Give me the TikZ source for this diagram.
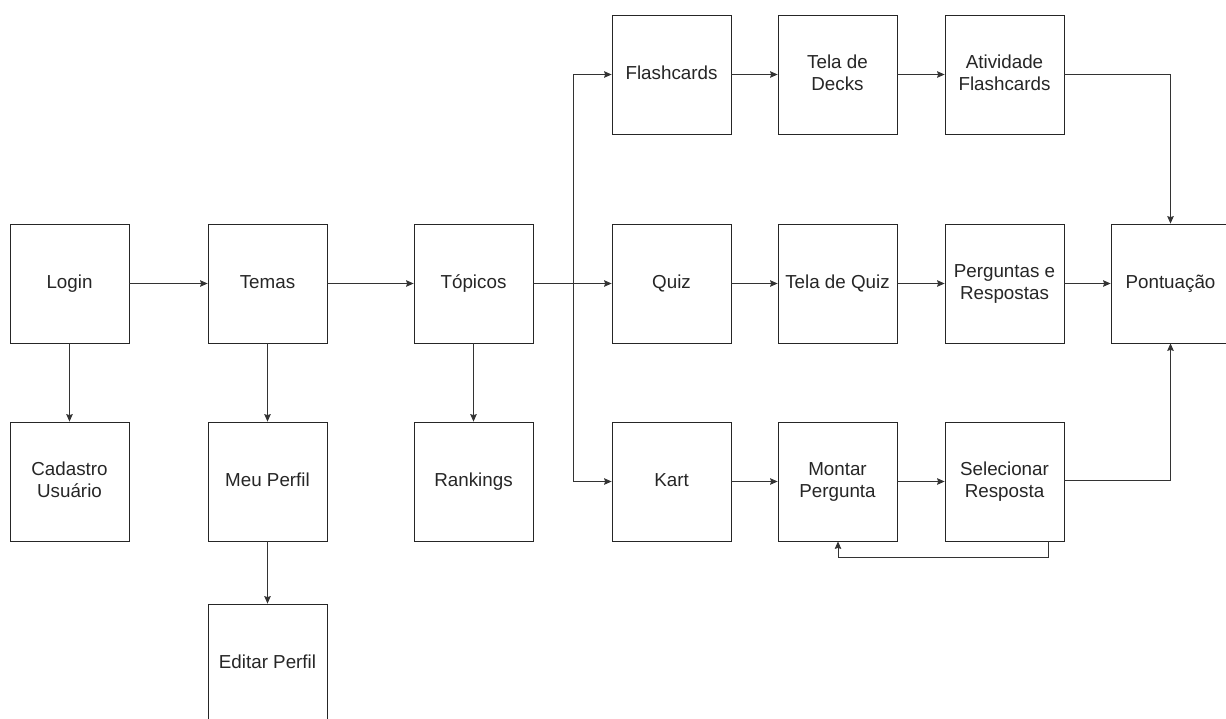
\documentclass[tikz,border=0pt]{standalone}
\usepackage{fontspec}
\setmainfont{Liberation Sans}
\usetikzlibrary{arrows.meta}
% invisible strut so that every label is centred on its capitals
\newcommand{\vstr}{\rule[-4pt]{0pt}{18.3pt}}
\begin{document}
\begin{tikzpicture}[x=1pt,y=-1pt,
  box/.style={draw=black!85, line width=0.8pt, fill=white, minimum width=119pt, minimum height=119pt,
    inner sep=2pt, align=center, font=\fontsize{18.8}{22.5}\selectfont, text=black!85},
  link/.style={draw=black!80, line width=0.8pt, -{Stealth[length=7.5pt,width=6.5pt,inset=1pt]}},
  wire/.style={draw=black!80, line width=0.8pt}]
\useasboundingbox (0,0) rectangle (1226,718);
\clip (0,0) rectangle (1226,718);
% first column: access
\node[box] (login) at (69.5,283.5) {\vstr Login};
\node[box] (cadastro) at (69.5,481.5) {\vstr Cadastro\\\vstr Usuário};
% second column: themes and profile
\node[box] (temas) at (267.5,283.5) {\vstr Temas};
\node[box] (perfil) at (267.5,481.5) {\vstr Meu Perfil};
\node[box] (editar) at (267.5,663.5) {\vstr Editar Perfil};
% third column: topics
\node[box] (topicos) at (473.5,283.5) {\vstr Tópicos};
\node[box] (rankings) at (473.5,481.5) {\vstr Rankings};
% activity rows
\node[box] (flash) at (671.5,74.5) {\vstr Flashcards};
\node[box] (quiz) at (671.5,283.5) {\vstr Quiz};
\node[box] (kart) at (671.5,481.5) {\vstr Kart};
\node[box] (decks) at (837.5,74.5) {\vstr Tela de\\\vstr Decks};
\node[box] (telaquiz) at (837.5,283.5) {\vstr Tela de Quiz};
\node[box] (montar) at (837.5,481.5) {\vstr Montar\\\vstr Pergunta};
\node[box] (atividade) at (1004.5,74.5) {\vstr Atividade\\\vstr Flashcards};
\node[box] (perguntas) at (1004.5,283.5) {\vstr Perguntas e\\\vstr Respostas};
\node[box] (selecionar) at (1004.5,481.5) {\vstr Selecionar\\\vstr Resposta};
\node[box] (pontuacao) at (1170.5,283.5) {\vstr Pontuação};
% connectors
\draw[link] (login) -- (temas);
\draw[link] (login) -- (cadastro);
\draw[link] (temas) -- (topicos);
\draw[link] (temas) -- (perfil);
\draw[link] (perfil) -- (editar);
\draw[link] (topicos) -- (rankings);
\coordinate (br) at (573,283.5);
\draw[wire] (topicos.east) -- (br);
\draw[link] (br) |- (flash.west);
\draw[link] (br) -- (quiz.west);
\draw[link] (br) |- (kart.west);
\draw[link] (flash) -- (decks);
\draw[link] (decks) -- (atividade);
\draw[link] (quiz) -- (telaquiz);
\draw[link] (telaquiz) -- (perguntas);
\draw[link] (kart) -- (montar);
\draw[link] (montar) -- (selecionar);
\draw[link] (perguntas) -- (pontuacao);
\draw[link] (atividade.east) -| (pontuacao.north);
\draw[link] ([yshift=1.5pt]selecionar.east) -| (pontuacao.south);
\draw[link] ([xshift=43.5pt]selecionar.south) -- ++(0,16) -| ([xshift=0.5pt]montar.south);
\end{tikzpicture}
\end{document}
